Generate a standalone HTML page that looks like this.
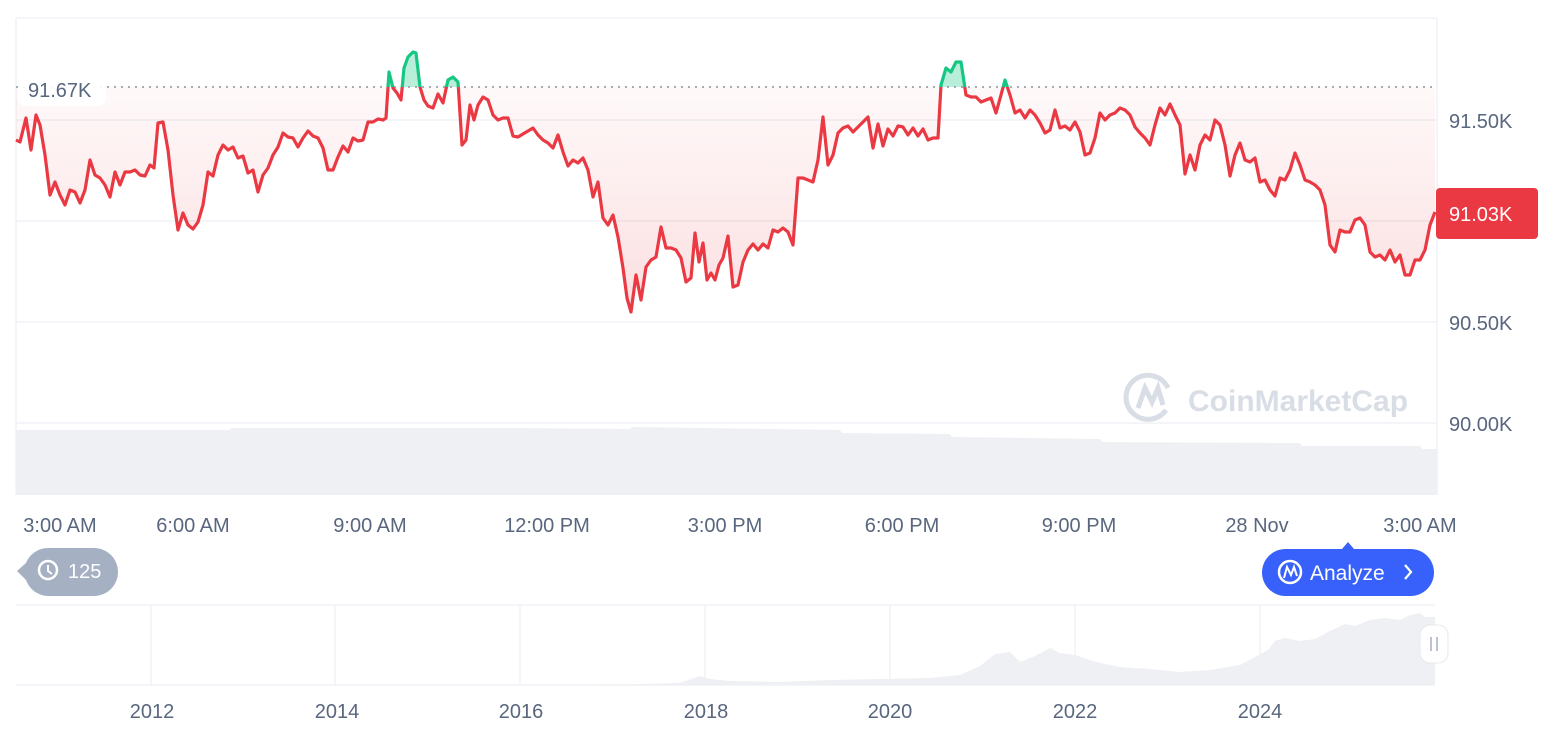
<!DOCTYPE html>
<html><head><meta charset="utf-8"><style>
html,body{margin:0;padding:0;background:#fff;width:1566px;height:732px;overflow:hidden}
svg{display:block}
text{font-family:"Liberation Sans",sans-serif}
</style></head><body>
<svg width="1566" height="732" viewBox="0 0 1566 732" xmlns="http://www.w3.org/2000/svg">
<defs>
<linearGradient id="rg" x1="0" y1="87" x2="0" y2="312" gradientUnits="userSpaceOnUse">
<stop offset="0" stop-color="#ea3943" stop-opacity="0.03"/>
<stop offset="1" stop-color="#ea3943" stop-opacity="0.16"/>
</linearGradient>
<clipPath id="below"><rect x="0" y="87" width="1437" height="420"/></clipPath>
<clipPath id="above"><rect x="0" y="0" width="1437" height="87"/></clipPath>
<polyline id="ln" fill="none" points="16,140 20,142 26,118 31,150 36,115 40,125 45,155 50,195 55,182 60,195 65,205 70,190 75,192 80,203 85,190 90,160 95,175 100,178 105,185 110,197 115,172 120,185 125,172 130,172 135,170 140,175 145,176 150,165 154,168 158,123 163,122 168,150 173,195 178,230 183,213 188,225 193,229 198,222 203,205 208,172 213,176 218,155 223,145 228,150 233,147 238,158 243,156 248,173 253,170 258,192 263,175 268,168 273,155 278,147 283,133 288,137 293,138 298,147 303,138 308,131 313,136 318,138 323,148 328,170 333,170 338,157 343,146 348,152 353,138 358,141 363,140 368,122 373,122 378,119 383,120 386,118 389,72 393,88 397,93 401,100 404,68 408,57 413,52 416,53 420,87 424,100 428,106 433,108 438,94 443,103 448,80 453,77 458,82 462,145 466,140 470,105 474,120 478,105 483,97 488,100 493,115 498,120 503,118 508,118 513,136 518,137 523,134 528,131 533,128 538,135 543,140 548,143 553,148 558,135 563,152 568,166 573,160 578,163 583,158 588,170 593,197 598,182 603,218 608,225 613,215 618,237 623,268 627,298 631,312 636,275 641,300 646,267 651,260 656,257 661,227 666,248 671,248 676,250 681,258 686,282 691,278 695,233 699,262 703,243 707,280 711,273 715,280 719,265 723,258 728,236 733,287 738,285 743,262 748,250 753,244 758,250 763,244 768,248 773,230 778,232 783,228 788,232 793,245 798,178 803,178 808,180 813,182 818,160 823,117 828,165 833,155 838,133 843,128 848,126 853,132 858,127 863,122 868,117 873,148 878,124 883,146 888,129 893,136 898,126 903,127 908,135 913,128 918,136 923,129 928,140 933,138 938,138 941,85 946,68 951,72 956,62 961,62 966,95 971,97 976,97 981,102 986,100 991,98 996,113 1001,95 1005,80 1010,95 1015,113 1020,110 1025,118 1030,110 1035,115 1040,123 1045,133 1050,130 1055,110 1060,128 1065,126 1070,130 1075,122 1080,132 1085,155 1090,153 1095,138 1100,113 1105,120 1110,115 1115,113 1120,108 1125,110 1130,115 1135,127 1140,133 1145,138 1150,145 1155,125 1160,108 1165,115 1170,104 1175,115 1180,125 1185,174 1190,155 1195,170 1200,145 1205,135 1210,140 1215,120 1220,125 1225,145 1230,176 1235,155 1240,143 1245,160 1250,162 1255,158 1260,182 1265,180 1270,190 1275,196 1280,178 1285,180 1290,170 1295,153 1300,165 1305,180 1310,182 1315,185 1320,190 1325,205 1330,245 1335,252 1340,230 1345,232 1350,232 1355,220 1360,218 1365,225 1370,252 1375,257 1380,255 1385,260 1390,250 1395,262 1400,255 1405,275 1410,275 1415,260 1420,260 1425,250 1430,225 1435,212"/>
</defs>
<!-- grid -->
<g stroke="#eff2f5" stroke-width="1.5">
<line x1="16" y1="18" x2="1437" y2="18"/>
<line x1="1437" y1="18" x2="1437" y2="495"/>
<line x1="16" y1="18" x2="16" y2="495"/>
<line x1="16" y1="120" x2="1437" y2="120"/>
<line x1="16" y1="221" x2="1437" y2="221"/>
<line x1="16" y1="322" x2="1437" y2="322"/>
<line x1="16" y1="423" x2="1437" y2="423"/>
</g>
<!-- volume -->
<polygon fill="#eef0f3" points="16,430 230,430 231,428 500,428 630,429 632,427 840,430 842,433 950,434 952,437 1100,439 1102,442 1300,443 1302,446 1420,446 1422,449 1437,449 1437,495 16,495"/>
<!-- watermark -->
<g fill="none" stroke="#d8dde6" stroke-width="5"><path d="M1168,388 A22,22 0 1 0 1166,410"/><path d="M1138,408 L1145,388 L1152,402 L1158,388 L1163,405"/></g>
<text x="1188" y="411" font-size="30" font-weight="bold" fill="#d8dde6">CoinMarketCap</text>
<!-- areas -->
<polygon clip-path="url(#below)" fill="url(#rg)" points="16,87 16,140 20,142 26,118 31,150 36,115 40,125 45,155 50,195 55,182 60,195 65,205 70,190 75,192 80,203 85,190 90,160 95,175 100,178 105,185 110,197 115,172 120,185 125,172 130,172 135,170 140,175 145,176 150,165 154,168 158,123 163,122 168,150 173,195 178,230 183,213 188,225 193,229 198,222 203,205 208,172 213,176 218,155 223,145 228,150 233,147 238,158 243,156 248,173 253,170 258,192 263,175 268,168 273,155 278,147 283,133 288,137 293,138 298,147 303,138 308,131 313,136 318,138 323,148 328,170 333,170 338,157 343,146 348,152 353,138 358,141 363,140 368,122 373,122 378,119 383,120 386,118 389,72 393,88 397,93 401,100 404,68 408,57 413,52 416,53 420,87 424,100 428,106 433,108 438,94 443,103 448,80 453,77 458,82 462,145 466,140 470,105 474,120 478,105 483,97 488,100 493,115 498,120 503,118 508,118 513,136 518,137 523,134 528,131 533,128 538,135 543,140 548,143 553,148 558,135 563,152 568,166 573,160 578,163 583,158 588,170 593,197 598,182 603,218 608,225 613,215 618,237 623,268 627,298 631,312 636,275 641,300 646,267 651,260 656,257 661,227 666,248 671,248 676,250 681,258 686,282 691,278 695,233 699,262 703,243 707,280 711,273 715,280 719,265 723,258 728,236 733,287 738,285 743,262 748,250 753,244 758,250 763,244 768,248 773,230 778,232 783,228 788,232 793,245 798,178 803,178 808,180 813,182 818,160 823,117 828,165 833,155 838,133 843,128 848,126 853,132 858,127 863,122 868,117 873,148 878,124 883,146 888,129 893,136 898,126 903,127 908,135 913,128 918,136 923,129 928,140 933,138 938,138 941,85 946,68 951,72 956,62 961,62 966,95 971,97 976,97 981,102 986,100 991,98 996,113 1001,95 1005,80 1010,95 1015,113 1020,110 1025,118 1030,110 1035,115 1040,123 1045,133 1050,130 1055,110 1060,128 1065,126 1070,130 1075,122 1080,132 1085,155 1090,153 1095,138 1100,113 1105,120 1110,115 1115,113 1120,108 1125,110 1130,115 1135,127 1140,133 1145,138 1150,145 1155,125 1160,108 1165,115 1170,104 1175,115 1180,125 1185,174 1190,155 1195,170 1200,145 1205,135 1210,140 1215,120 1220,125 1225,145 1230,176 1235,155 1240,143 1245,160 1250,162 1255,158 1260,182 1265,180 1270,190 1275,196 1280,178 1285,180 1290,170 1295,153 1300,165 1305,180 1310,182 1315,185 1320,190 1325,205 1330,245 1335,252 1340,230 1345,232 1350,232 1355,220 1360,218 1365,225 1370,252 1375,257 1380,255 1385,260 1390,250 1395,262 1400,255 1405,275 1410,275 1415,260 1420,260 1425,250 1430,225 1435,212 1435,87"/>
<polygon clip-path="url(#above)" fill="#16c784" fill-opacity="0.3" points="386,87 389,72 393,88 397,93 401,87 404,68 408,57 413,52 416,53 420,87 443,87 448,80 453,77 458,82 460,87 938,87 941,85 946,68 951,72 956,62 961,62 966,95 1001,95 1005,80 1010,95"/>
<line x1="16" y1="87" x2="1437" y2="87" stroke="#8a919e" stroke-width="1.5" stroke-dasharray="2,5"/>
<!-- line -->
<use href="#ln" stroke="#ea3943" stroke-width="3.2" stroke-linejoin="round" clip-path="url(#below)"/>
<use href="#ln" stroke="#16c784" stroke-width="3.2" stroke-linejoin="round" clip-path="url(#above)"/>
<!-- ref label -->
<rect x="18" y="74" width="88" height="32" rx="8" fill="#fff" fill-opacity="0.9"/>
<text x="28" y="97" font-size="20" fill="#58667e">91.67K</text>
<!-- y labels -->
<g font-size="20" fill="#58667e">
<text x="1449" y="128">91.50K</text>
<text x="1449" y="330">90.50K</text>
<text x="1449" y="431">90.00K</text>
</g>
<rect x="1436" y="188" width="102" height="51" rx="4" fill="#ea3943"/>
<text x="1449" y="221" font-size="20" fill="#fff">91.03K</text>
<!-- x labels -->
<g font-size="20" fill="#58667e" text-anchor="middle">
<text x="60" y="532">3:00 AM</text>
<text x="193" y="532">6:00 AM</text>
<text x="370" y="532">9:00 AM</text>
<text x="547" y="532">12:00 PM</text>
<text x="725" y="532">3:00 PM</text>
<text x="902" y="532">6:00 PM</text>
<text x="1079" y="532">9:00 PM</text>
<text x="1257" y="532">28 Nov</text>
<text x="1420" y="532">3:00 AM</text>
</g>
<!-- 125 badge -->
<path d="M47,548 L94,548 A24,24 0 0 1 94,596 L47,596 A24,24 0 0 1 26,580 L17,571 L26,563 A24,24 0 0 1 47,548 Z" fill="#a6b0c3"/>
<circle cx="48" cy="570" r="9" fill="none" stroke="#fff" stroke-width="2.5"/>
<path d="M48,565 L48,571 L52,574" fill="none" stroke="#fff" stroke-width="2"/>
<text x="68" y="578" font-size="20" fill="#fff">125</text>
<!-- Analyze -->
<path d="M1342,549 L1348,542 L1354,549 Z" fill="#3861fb"/>
<rect x="1262" y="549" width="172" height="47" rx="23.5" fill="#3861fb"/>
<circle cx="1290" cy="572" r="11" fill="none" stroke="#fff" stroke-width="2.5"/>
<path d="M1284,578 L1287,567 L1291,575 L1294,567 L1297,576" fill="none" stroke="#fff" stroke-width="2"/>
<text x="1310" y="580" font-size="21" fill="#fff">Analyze</text>
<path d="M1405,565 L1411,572 L1405,579" fill="none" stroke="#fff" stroke-width="2.2"/>
<!-- navigator -->
<g stroke="#eff2f5" stroke-width="1.5">
<line x1="16" y1="605" x2="1435" y2="605"/>
<line x1="16" y1="685" x2="1435" y2="685"/>
<line x1="151" y1="605" x2="151" y2="685"/>
<line x1="335" y1="605" x2="335" y2="685"/>
<line x1="520" y1="605" x2="520" y2="685"/>
<line x1="705" y1="605" x2="705" y2="685"/>
<line x1="890" y1="605" x2="890" y2="685"/>
<line x1="1075" y1="605" x2="1075" y2="685"/>
<line x1="1260" y1="605" x2="1260" y2="685"/>
</g>
<polygon fill="#eef0f3" points="16,685 600,685 680,683 700,676 710,679 730,681 780,682 830,680 880,679 930,678 960,675 980,666 995,654 1010,652 1020,662 1035,656 1050,648 1060,653 1075,655 1090,660 1100,663 1120,667 1150,669 1180,672 1210,670 1240,665 1255,657 1268,650 1275,641 1285,638 1300,641 1315,639 1330,631 1345,624 1355,626 1370,620 1385,618 1400,620 1410,615 1420,613 1425,617 1435,617 1435,685"/>
<rect x="1420" y="625" width="28" height="38" rx="10" fill="#fff" stroke="#e6e8ec" stroke-width="1"/>
<line x1="1431" y1="637" x2="1431" y2="651" stroke="#a6b0c3" stroke-width="1.5"/>
<line x1="1437" y1="637" x2="1437" y2="651" stroke="#a6b0c3" stroke-width="1.5"/>
<g font-size="20" fill="#58667e" text-anchor="middle">
<text x="152" y="718">2012</text>
<text x="337" y="718">2014</text>
<text x="521" y="718">2016</text>
<text x="706" y="718">2018</text>
<text x="890" y="718">2020</text>
<text x="1075" y="718">2022</text>
<text x="1260" y="718">2024</text>
</g>
</svg>
</body></html>
